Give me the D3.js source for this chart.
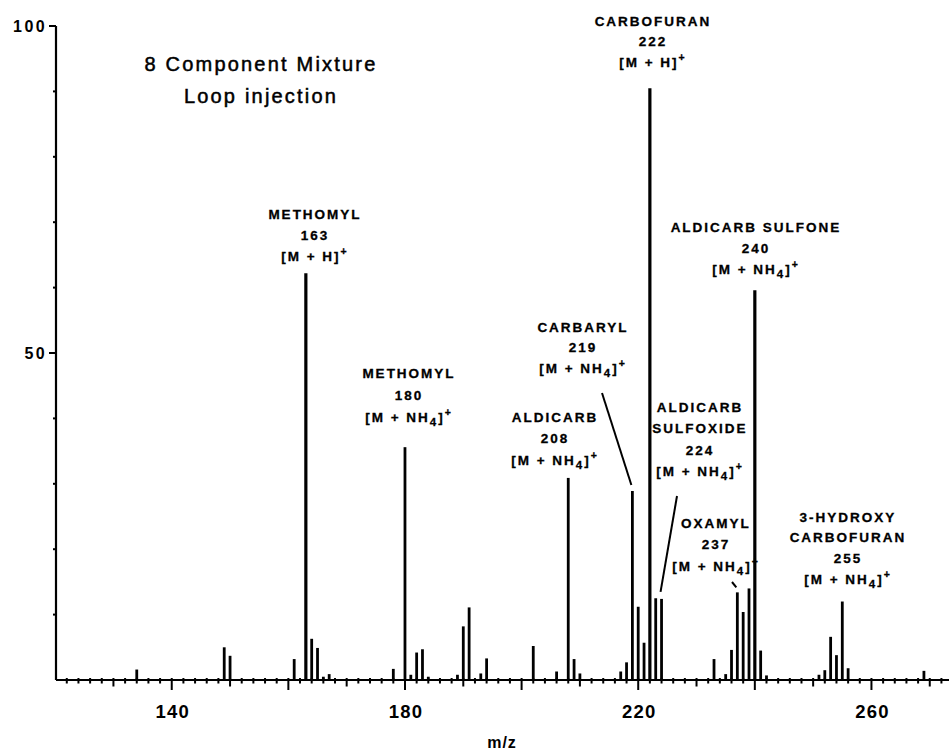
<!DOCTYPE html>
<html>
  <head>
    <meta charset="utf-8">
    <script src="https://cdn.jsdelivr.net/npm/d3@7/dist/d3.min.js"></script>
    <style>
      body {
        margin: 0;
        background: #fff;
      }
      text {
        font-family: "Liberation Sans", Arial, sans-serif;
        fill: #000;
      }
      .lbl {
        font-weight: bold;
        font-size: 13.5px;
        letter-spacing: 2px;
        stroke: #000;
        stroke-width: 0.3px;
      }
    </style>
  </head>
  <body>
    <script type="text/javascript">
      // peaks (m/z, relative intensity %)
      var mzValues = [134, 149, 150, 161, 163, 164, 165, 166, 167,
                      178, 180, 181, 182, 183, 184, 189, 190, 191, 193, 194,
                      202, 206, 208, 209, 210, 217, 218, 219, 220, 221, 222, 223, 224,
                      233, 235, 236, 237, 238, 239, 240, 241, 242,
                      251, 252, 253, 254, 255, 256, 269];
      var intensities = [1.6, 5.0, 3.7, 3.2, 62.2, 6.3, 4.9, 0.5, 0.9,
                         1.7, 35.6, 0.8, 4.2, 4.7, 0.5, 0.8, 8.2, 11.1, 1.0, 3.3,
                         5.2, 1.3, 30.9, 3.2, 1.0, 1.3, 2.7, 28.9, 11.2, 5.7, 90.5, 12.5, 12.4,
                         3.2, 0.9, 4.6, 13.4, 10.4, 14.0, 59.6, 4.5, 0.7,
                         0.8, 1.5, 6.6, 3.8, 12.0, 1.8, 1.4];

      var xTickLabels = [140, 180, 220, 260];
      var yTickLabels = [50, 100];
      var titleLines = ["8 Component Mixture", "Loop injection"];
      var xTitle = "m/z";

      var compoundNames = [
        ["METHOMYL", "163"],
        ["METHOMYL", "180"],
        ["CARBOFURAN", "222"],
        ["ALDICARB SULFONE", "240"],
        ["CARBARYL", "219"],
        ["ALDICARB", "208"],
        ["ALDICARB", "SULFOXIDE", "224"],
        ["OXAMYL", "237"],
        ["3-HYDROXY", "CARBOFURAN", "255"]
      ];
      var compoundMz = [163, 180, 222, 240, 219, 208, 224, 237, 255];
      var compoundAdduct = ["H", "NH4", "H", "NH4", "NH4", "NH4", "NH4", "NH4", "NH4"];

      // label placement: centre x, first baseline, line step
      var labelLayout = [
        {x: 314, y: 218.5, step: 21},
        {x: 408, y: 377.5, step: 22},
        {x: 652, y: 25.5, step: 20.5},
        {x: 755, y: 231.5, step: 21},
        {x: 582, y: 331.5, step: 20.5},
        {x: 554, y: 421.5, step: 21.5},
        {x: 699, y: 411.5, step: 21.5},
        {x: 715, y: 527.5, step: 21.5},
        {x: 847, y: 521.5, step: 20.8}
      ];
      // leader start points (px); they end just above the peak top
      var leaders = [
        {mz: 219, x0: 602, y0: 393, gap: 6},
        {mz: 224, x0: 677, y0: 496, gap: 7},
        {mz: 237, x0: 732, y0: 582, gap: 5}
      ];

      var width = 949,
          height = 751;

      var svg = d3.select("body")
        .append("svg")
          .attr("width", width)
          .attr("height", height);

      var x = d3.scaleLinear().domain([120.15, 273.3]).range([56, 949]);
      var y = d3.scaleLinear().domain([0, 100]).range([680, 26]);

      var peaks = mzValues.map(function (m, i) { return {mz: m, val: intensities[i]}; });

      // stick spectrum
      svg.append("g").selectAll("line")
        .data(peaks)
        .enter()
        .append("line")
          .attr("x1", function (d) { return x(d.mz); })
          .attr("x2", function (d) { return x(d.mz); })
          .attr("y1", y(0))
          .attr("y2", function (d) { return y(d.val); })
          .style("stroke", "#000")
          .style("stroke-width", function (d) { return d.val > 50 ? 3.2 : 2.8; });

      // x axis baseline + ticks every 2 units
      svg.append("line")
        .attr("x1", x.range()[0]).attr("x2", width)
        .attr("y1", y(0)).attr("y2", y(0))
        .style("stroke", "#000").style("stroke-width", 2.2);

      var xTicks = d3.range(122, 274, 2);
      svg.append("g").selectAll("line")
        .data(xTicks)
        .enter()
        .append("line")
          .attr("x1", function (d) { return x(d); })
          .attr("x2", function (d) { return x(d); })
          .attr("y1", y(0) - 2)
          .attr("y2", function (d) { return y(0) + (d % 20 === 0 ? 10 : d % 10 === 0 ? 6.5 : 3.5); })
          .style("stroke", "#000")
          .style("stroke-width", 2);

      svg.append("g").selectAll("text")
        .data(xTickLabels)
        .enter()
        .append("text")
          .attr("x", function (d) { return x(d) + 1; })
          .attr("y", 718)
          .attr("text-anchor", "middle")
          .style("font-size", "18.5px")
          .style("font-weight", "bold")
          .style("letter-spacing", "1.2px")
          .text(function (d) { return d; });

      svg.append("text")
        .attr("x", 502)
        .attr("y", 748)
        .attr("text-anchor", "middle")
        .style("font-size", "16px")
        .style("font-weight", "bold")
        .style("letter-spacing", "1px")
        .text(xTitle);

      // y axis
      svg.append("line")
        .attr("x1", x.range()[0]).attr("x2", x.range()[0])
        .attr("y1", y(100)).attr("y2", y(0))
        .style("stroke", "#000").style("stroke-width", 2.2);

      svg.append("g").selectAll("line")
        .data(d3.range(10, 101, 10))
        .enter()
        .append("line")
          .attr("x1", function (d) { return x.range()[0] - (d % 50 === 0 ? 7 : 3); })
          .attr("x2", x.range()[0])
          .attr("y1", function (d) { return y(d); })
          .attr("y2", function (d) { return y(d); })
          .style("stroke", "#000")
          .style("stroke-width", 2);

      svg.append("g").selectAll("text")
        .data(yTickLabels)
        .enter()
        .append("text")
          .attr("x", 47)
          .attr("y", function (d) { return y(d) + 6; })
          .attr("text-anchor", "end")
          .style("font-size", "16px")
          .style("font-weight", "bold")
          .style("letter-spacing", "2.4px")
          .text(function (d) { return d; });

      // title
      svg.append("g").selectAll("text")
        .data(titleLines)
        .enter()
        .append("text")
          .attr("x", 261)
          .attr("y", function (d, i) { return 70.5 + i * 32.5; })
          .attr("text-anchor", "middle")
          .style("font-size", "20px")
          .style("letter-spacing", "2.2px")
          .style("stroke", "#000")
          .style("stroke-width", 0.5)
          .text(function (d) { return d; });

      // compound labels
      compoundNames.forEach(function (lines, i) {
        var pos = labelLayout[i];
        var g = svg.append("g").attr("class", "lbl");
        lines.forEach(function (t, j) {
          g.append("text")
            .attr("x", pos.x + 1)
            .attr("y", pos.y + j * pos.step)
            .attr("text-anchor", "middle")
            .text(t);
        });
        var ion = g.append("text")
          .attr("x", pos.x + 1)
          .attr("y", pos.y + lines.length * pos.step)
          .attr("text-anchor", "middle");
        if (compoundAdduct[i] === "NH4") {
          ion.append("tspan").text("[M + NH");
          ion.append("tspan").attr("dy", 4).style("font-size", "11.5px").text("4");
          ion.append("tspan").attr("dy", -4).text("]");
        } else {
          ion.append("tspan").text("[M + H]");
        }
        ion.append("tspan").attr("dy", -6).style("font-size", "10.5px").text("+");
      });

      // leader lines to the crowded peaks
      svg.append("g").selectAll("line")
        .data(leaders)
        .enter()
        .append("line")
          .attr("x1", function (d) { return d.x0; })
          .attr("y1", function (d) { return d.y0; })
          .attr("x2", function (d) { return x(d.mz) - 1; })
          .attr("y2", function (d) { return y(intensities[mzValues.indexOf(d.mz)]) - d.gap; })
          .style("stroke", "#000")
          .style("stroke-width", 2);
    </script>
  </body>
</html>
